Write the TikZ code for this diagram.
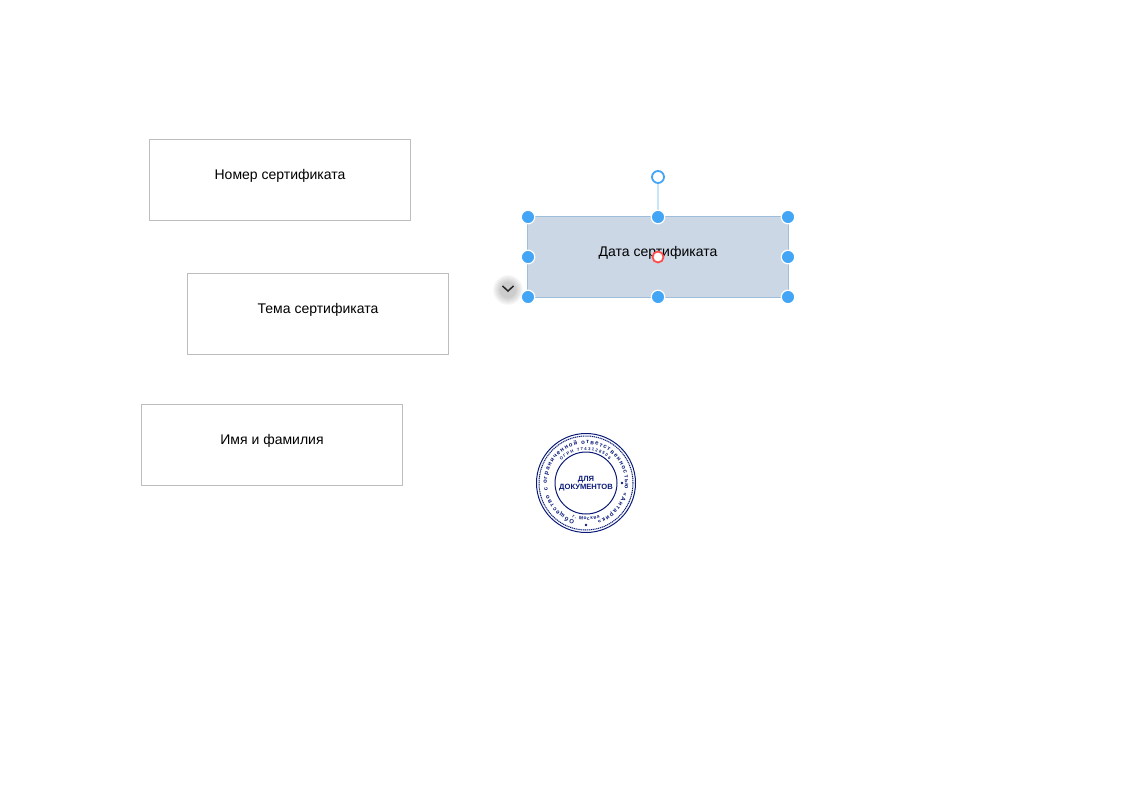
\documentclass[tikz,border=0pt]{standalone}
\usepackage{fontspec}
\setmainfont{Liberation Sans}
\usetikzlibrary{decorations.text}
\definecolor{handleblue}{HTML}{42A5F5}
\definecolor{selfill}{HTML}{CBD7E5}
\definecolor{seledge}{HTML}{9DBEDB}
\definecolor{boxedge}{HTML}{BDBDBD}
\definecolor{stampblue}{HTML}{0A1A78}
\tikzset{
  fieldbox/.style={draw=boxedge, minimum width=261, minimum height=81, inner sep=0pt, line width=0.8pt},
  fieldtxt/.style={font=\fontsize{14}{17}\selectfont, inner sep=0pt, text=black},
  handle/.style={circle, draw=white, fill=handleblue, line width=1.2pt, minimum size=13.5, inner sep=0pt},
  ringhandle/.style={circle, draw=handleblue, fill=white, line width=1.8pt, minimum size=12, inner sep=0pt},
  stampring/.style={circle, draw=stampblue, line width=1pt, inner sep=0pt},
  stampdot/.style={circle, fill=stampblue, minimum size=2.6, inner sep=0pt},
}
\begin{document}
\begin{tikzpicture}[x=1pt,y=-1pt]
\useasboundingbox (0,0) rectangle (1123,794);
% boxes on the left
\node[fieldbox] (nomer) at (280,180) {};
\node[fieldbox] (tema) at (318,314) {};
\node[fieldbox] (imya) at (272,445) {};
\node[fieldtxt] at (280,176) {Номер сертификата};
\node[fieldtxt] at (318,310) {Тема сертификата};
\node[fieldtxt] at (272,441) {Имя и фамилия};
% selected box
\node[fieldbox, draw=seledge, fill=selfill, line width=1.6pt] (data) at (658,257) {};
\node[fieldtxt] at (658,253) {Дата сертификата};
\node[ringhandle] (rot) at (658,177) {};
\draw[handleblue!30, line width=2pt] (rot) -- (data.north);
\foreach \x/\y/\n in {528/217/nw,658/217/n,788/217/ne,528/257/w,788/257/e,528/297/sw,658/297/s,788/297/se}
  \node[handle] (h\n) at (\x,\y) {};
\node[ringhandle, draw=red!70!white, minimum size=11] (pivot) at (658,257) {};
% menu button
\foreach \r in {15,14,...,8}
  \fill[black, opacity=0.028] (508,290) circle[radius=\r];
\node[circle, minimum size=22, inner sep=0pt] (menu) at (508,289) {};
\draw[line width=1.5pt, black!85] (502.5,286) -- (508,291) -- (513.5,286);
% stamp
\node[stampring, minimum size=99] (st1) at (586,483) {};
\node[stampring, minimum size=94, dash pattern=on 1.2pt off 0.7pt] (st2) at (586,483) {};
\node[stampring, minimum size=62] (st3) at (586,483) {};
\node[align=center, inner sep=0pt, text=stampblue, font=\fontsize{7.6}{8}\selectfont\bfseries] (dlya) at (586,483.2) {ДЛЯ\\ДОКУМЕНТОВ};
\node[stampdot] (dot1) at (622,483) {};
\node[stampdot] (dot2) at (586,525) {};
\path[postaction={decorate, decoration={text along path, text align={fit to path}, text={|\fontsize{6}{6}\selectfont\bfseries\color{stampblue}|Общество с ограниченной ответственностью «Антарик»}}}]
  (st1.center) ++(107:39) arc[start angle=107, end angle=433, radius=39];
\path[postaction={decorate, decoration={text along path, text align={fit to path}, text={|\fontsize{4.2}{5}\selectfont\bfseries\color{stampblue}|ОГРН 7743128506}}}]
  (st1.center) ++(222:33) arc[start angle=222, end angle=315, radius=33];
\path[postaction={decorate, decoration={text along path, text align={fit to path}, text={|\fontsize{4.8}{5}\selectfont\bfseries\color{stampblue}|г. Москва}}}]
  (st1.center) ++(112:37) arc[start angle=112, end angle=68, radius=37];
\end{tikzpicture}
\end{document}
